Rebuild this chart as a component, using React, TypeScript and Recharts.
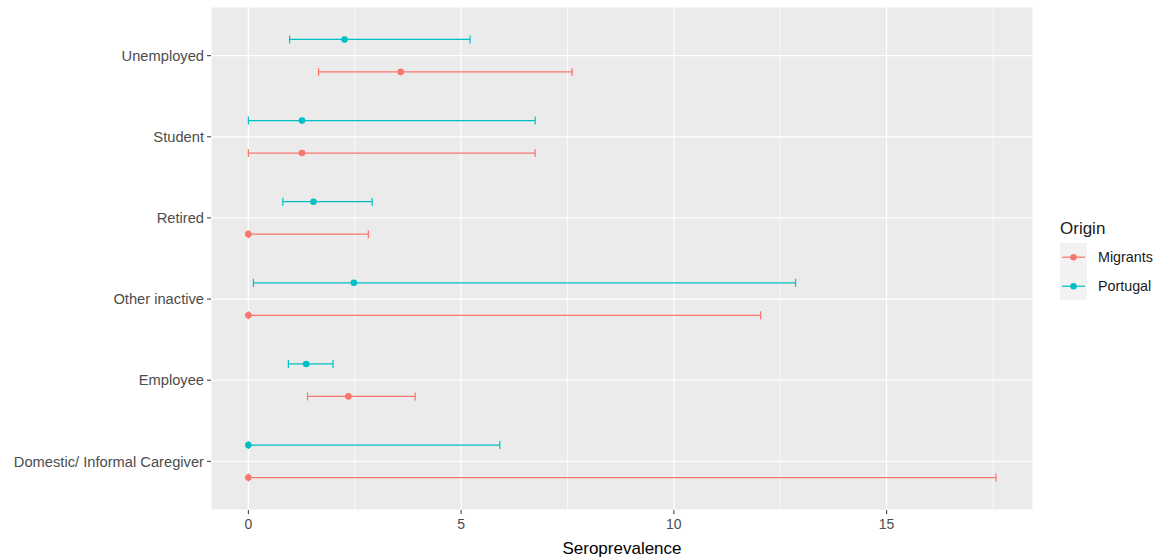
import {
  CartesianGrid,
  ErrorBar,
  Legend,
  Scatter,
  ScatterChart,
  XAxis,
  YAxis,
} from "recharts";

// Categories bottom → top, as ggplot orders a discrete y axis.
const categories = [
  "Domestic/ Informal Caregiver",
  "Employee",
  "Other inactive",
  "Retired",
  "Student",
  "Unemployed",
];

const migrantsEst = [0, 2.35, 0, 0, 1.26, 3.58];
const migrantsLow = [0, 1.39, 0, 0, 0, 1.65];
const migrantsHigh = [17.57, 3.92, 12.04, 2.82, 6.74, 7.61];

const portugalEst = [0, 1.36, 2.48, 1.53, 1.26, 2.26];
const portugalLow = [0, 0.94, 0.12, 0.81, 0, 0.97];
const portugalHigh = [5.91, 1.99, 12.86, 2.91, 6.74, 5.21];

const xTicks = [0, 5, 10, 15];
const xMinor = [2.5, 7.5, 12.5, 17.5];

const MIGRANTS = "#F8766D";
const PORTUGAL = "#00BFC4";
const FONT = '"Liberation Sans", Arial, sans-serif';
const DODGE = 0.2;

const toRows = (est: number[], low: number[], high: number[], shift: number) =>
  est.map((v, i) => ({
    x: v,
    y: i + shift,
    err: [v - low[i], high[i] - v],
  }));

const migrants = toRows(migrantsEst, migrantsLow, migrantsHigh, -DODGE);
const portugal = toRows(portugalEst, portugalLow, portugalHigh, DODGE);

const dot = (color: string) => (p: any) =>
  <circle cx={p.cx} cy={p.cy} r={3.3} fill={color} />;

function OriginLegend({ payload }: any) {
  const items = (payload ?? []).filter((d: any) => d.value);
  return (
    <div style={{ fontFamily: FONT, color: "#1a1a1a", textAlign: "left" }}>
      <div style={{ fontSize: 17, lineHeight: "22px", height: 22, marginBottom: 3 }}>Origin</div>
      {items.map((d: any) => (
        <div key={d.value} style={{ display: "flex", alignItems: "center", height: 28.5 }}>
          <svg width={27} height={28.5} style={{ background: "#F2F2F2", display: "block" }}>
            <line x1={2} x2={25} y1={14.25} y2={14.25} stroke={d.color} strokeWidth={1.2} />
            <circle cx={13.5} cy={14.25} r={3.3} fill={d.color} />
          </svg>
          <span style={{ fontSize: 14.3, marginLeft: 11 }}>{d.value}</span>
        </div>
      ))}
    </div>
  );
}

export default function App() {
  return (
    <div style={{ position: "absolute", left: 0, top: 0 }}>
      <ScatterChart
        width={1159}
        height={560}
        margin={{ top: 7, right: 126, bottom: 0, left: 0 }}
      >
        <CartesianGrid fill="#EBEBEB" stroke="#FFFFFF" strokeWidth={1.2} />
        <CartesianGrid
          horizontal={false}
          verticalValues={xMinor}
          stroke="#FFFFFF"
          strokeWidth={0.7}
        />
        <XAxis
          type="number"
          dataKey="x"
          domain={[-0.878, 18.44]}
          ticks={xTicks}
          allowDataOverflow
          height={50}
          axisLine={false}
          tickSize={4}
          tickMargin={5}
          tickLine={{ stroke: "#333333" }}
          tick={{ fill: "#4D4D4D", fontSize: 14, fontFamily: FONT }}
          label={{
            value: "Seroprevalence",
            position: "insideBottom",
            offset: 6,
            fill: "#000000",
            fontSize: 17,
            fontFamily: FONT,
          }}
        />
        <YAxis
          type="number"
          dataKey="y"
          domain={[-0.6, 5.6]}
          ticks={categories.map((_, i) => i)}
          tickFormatter={(i) => categories[i] ?? ""}
          allowDataOverflow
          width={211}
          axisLine={false}
          tickSize={4}
          tickMargin={3}
          tickLine={{ stroke: "#333333" }}
          tick={{ fill: "#4D4D4D", fontSize: 14.7, fontFamily: FONT }}
        />
        <Legend
          layout="horizontal"
          verticalAlign="middle"
          align="center"
          wrapperStyle={{ left: 1060, top: 218, right: "auto", width: 99 }}
          content={<OriginLegend />}
        />
        <Scatter
          name="Migrants"
          data={migrants}
          fill={MIGRANTS}
          shape={dot(MIGRANTS)}
          isAnimationActive={false}
        >
          <ErrorBar dataKey="err" direction="x" width={4} stroke={MIGRANTS} strokeWidth={1.2} isAnimationActive={false} />
        </Scatter>
        <Scatter
          name="Portugal"
          data={portugal}
          fill={PORTUGAL}
          shape={dot(PORTUGAL)}
          isAnimationActive={false}
        >
          <ErrorBar dataKey="err" direction="x" width={4} stroke={PORTUGAL} strokeWidth={1.2} isAnimationActive={false} />
        </Scatter>
      </ScatterChart>
    </div>
  );
}
